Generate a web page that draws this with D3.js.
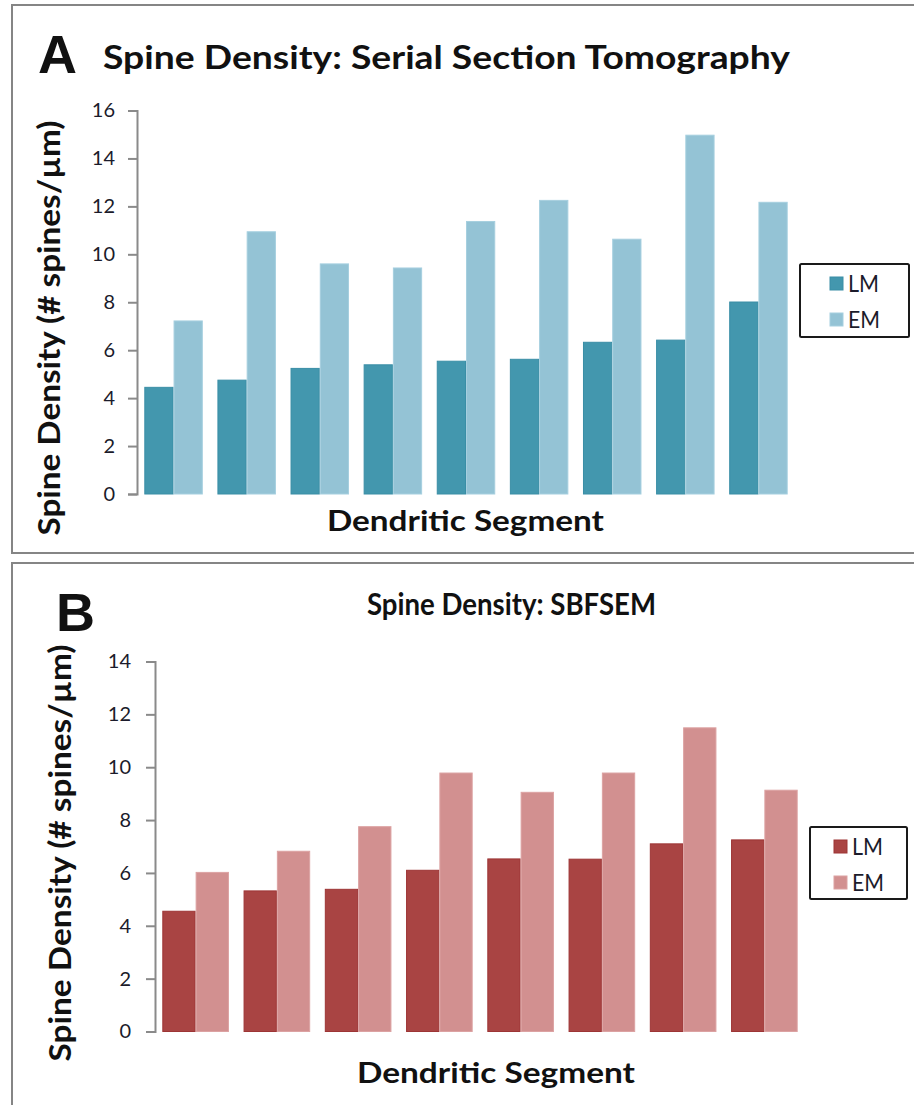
<!DOCTYPE html>
<html>
<head>
<meta charset="utf-8">
<script src="https://cdn.jsdelivr.net/npm/d3@7"></script>
<style>
  html, body { margin: 0; padding: 0; background: #fff; }
  svg { display: block; }
  text { font-family: Lato, "Open Sans", sans-serif; }
</style>
</head>
<body>
<svg id="chart" width="914" height="1105"></svg>
<script>
// ---------------- DATA ----------------
const seriesNames = ["LM", "EM"];

const segmentsA = ["1", "2", "3", "4", "5", "6", "7", "8", "9"];
const lmA = [4.45, 4.75, 5.24, 5.39, 5.54, 5.62, 6.33, 6.42, 8.01];
const emA = [7.22, 10.94, 9.60, 9.43, 11.37, 12.25, 10.63, 14.97, 12.17];
const ticksA = [0, 2, 4, 6, 8, 10, 12, 14, 16];

const segmentsB = ["1", "2", "3", "4", "5", "6", "7", "8"];
const lmB = [4.55, 5.32, 5.38, 6.10, 6.53, 6.52, 7.10, 7.25];
const emB = [6.02, 6.82, 7.75, 9.78, 9.05, 9.78, 11.49, 9.13];
const ticksB = [0, 2, 4, 6, 8, 10, 12, 14];

const titleA = "Spine Density: Serial Section Tomography";
const titleB = "Spine Density: SBFSEM";
const yLabel = "Spine Density (# spines/µm)";
const xLabel = "Dendritic Segment";

// ---------------- DRAW ----------------
const svg = d3.select("#chart");

// set a font size for the glyph height and squeeze/stretch to the target width
function sizeText(sel, fontSize, target) {
  sel.attr("font-size", fontSize)
    .attr("textLength", target)
    .attr("lengthAdjust", "spacingAndGlyphs");
  return sel;
}

function drawPanel(cfg) {
  const g = svg.append("g");

  // panel border
  g.append("rect")
    .attr("x", cfg.box[0]).attr("y", cfg.box[1])
    .attr("width", cfg.box[2]).attr("height", cfg.box[3])
    .attr("fill", "none").attr("stroke", "#858585").attr("stroke-width", 2);

  const rows = cfg.segments.map((s, i) => ({ seg: s, LM: cfg.lm[i], EM: cfg.em[i] }));

  const x0 = d3.scaleBand().domain(cfg.segments).range(cfg.xRange)
    .paddingInner(cfg.pad).paddingOuter(cfg.pad / 2);
  const x1 = d3.scaleBand().domain(seriesNames).range([0, x0.bandwidth()]);
  const y = d3.scaleLinear().domain([0, d3.max(cfg.ticks)]).range(cfg.yRange);

  // bars
  const groups = g.selectAll("g.grp").data(rows).join("g")
    .attr("class", "grp")
    .attr("transform", d => `translate(${x0(d.seg)},0)`);
  groups.selectAll("rect").data(d => seriesNames.map(k => ({ key: k, value: d[k] })))
    .join("rect")
    .attr("x", d => x1(d.key) + 0.5)
    .attr("y", d => y(d.value))
    .attr("width", x1.bandwidth() - 1)
    .attr("height", d => y(0) - y(d.value))
    .attr("fill", d => cfg.colors[d.key])
    .attr("stroke", d => cfg.strokes[d.key])
    .attr("stroke-width", 1);

  // y axis
  const axis = d3.axisLeft(y).tickValues(cfg.ticks).tickSize(9).tickSizeOuter(9)
    .tickPadding(cfg.tickPad).tickFormat(d3.format("d"));
  const ag = g.append("g").attr("transform", `translate(${cfg.xRange[0]},0)`).call(axis);
  ag.select(".domain").attr("stroke", "#8a8a8a").attr("stroke-width", 2);
  ag.selectAll(".tick line").attr("stroke", "#8a8a8a").attr("stroke-width", 2);
  ag.selectAll(".tick text").attr("font-size", cfg.tickFont).attr("fill", "#1b1b2b")
    .style("font-family", "Lato, sans-serif");

  // big letter
  g.append("text").attr("x", cfg.letterPos[0]).attr("y", cfg.letterPos[1])
    .text(cfg.letter).attr("font-size", 54).attr("font-weight", "bold")
    .style("font-family", "'Liberation Sans', Arial, sans-serif").attr("fill", "#111");

  // title
  const t = g.append("text").attr("x", cfg.titlePos[0]).attr("y", cfg.titlePos[1])
    .text(cfg.title).attr("font-weight", "bold").attr("fill", "#111");
  sizeText(t, cfg.titleFont, cfg.titleWidth);

  // y label
  const yl = g.append("text")
    .attr("transform", `translate(${cfg.yLabelPos[0]},${cfg.yLabelPos[1]}) rotate(-90)`)
    .attr("text-anchor", "middle").text(yLabel)
    .attr("font-weight", "bold").attr("fill", "#111");
  sizeText(yl, 31, cfg.yLabelWidth);

  // x label
  const xl = g.append("text").attr("x", cfg.xLabelPos[0]).attr("y", cfg.xLabelPos[1])
    .attr("text-anchor", "middle").text(xLabel)
    .attr("font-weight", "bold").attr("fill", "#111");
  sizeText(xl, 28, cfg.xLabelWidth);

  // legend
  const lb = cfg.legendBox;
  g.append("rect").attr("x", lb[0]).attr("y", lb[1]).attr("width", lb[2]).attr("height", lb[3])
    .attr("fill", "#fff").attr("stroke", "#1a1a1a").attr("stroke-width", 2).attr("rx", 1.5);
  seriesNames.forEach((k, i) => {
    const sy = cfg.legendSwatchY[i];
    g.append("rect").attr("x", cfg.legendSwatchX).attr("y", sy).attr("width", 13).attr("height", 13)
      .attr("fill", cfg.colors[k]).attr("stroke", cfg.strokes[k]).attr("stroke-width", 1);
    const lt = g.append("text").attr("x", cfg.legendSwatchX + 18).attr("y", sy + 14.5)
      .text(k).attr("fill", "#1b1b2b");
    sizeText(lt, 24, k === "LM" ? 31 : 32);
  });
}

drawPanel({
  box: [12, 5, 920, 548],
  segments: segmentsA, lm: lmA, em: emA, ticks: ticksA,
  xRange: [137, 795], pad: 0.2, yRange: [494, 110.5],
  tickPad: 13, tickFont: 20,
  colors: { LM: "#4397ae", EM: "#94c3d5" },
  strokes: { LM: "#3a8ea6", EM: "#a6cfdf" },
  letter: "A", letterPos: [38, 72.5],
  title: titleA, titlePos: [103, 69], titleFont: 32, titleWidth: 687,
  yLabelPos: [60, 328], yLabelWidth: 415,
  xLabelPos: [465.5, 531], xLabelWidth: 277,
  legendBox: [800, 264, 109, 73], legendSwatchX: 830, legendSwatchY: [277, 313]
});

drawPanel({
  box: [12, 563, 920, 560],
  segments: segmentsB, lm: lmB, em: emB, ticks: ticksB,
  xRange: [155, 805], pad: 0.18, yRange: [1031.5, 661.5],
  tickPad: 15, tickFont: 20,
  colors: { LM: "#a94443", EM: "#d29090" },
  strokes: { LM: "#9d3535", EM: "#dca2a2" },
  letter: "B", letterPos: [56, 631],
  title: titleB, titlePos: [367, 615], titleFont: 31, titleWidth: 289,
  yLabelPos: [71, 853], yLabelWidth: 417,
  xLabelPos: [496, 1083], xLabelWidth: 278,
  legendBox: [810, 827, 97, 72], legendSwatchX: 834, legendSwatchY: [840, 876]
});
</script>
</body>
</html>
